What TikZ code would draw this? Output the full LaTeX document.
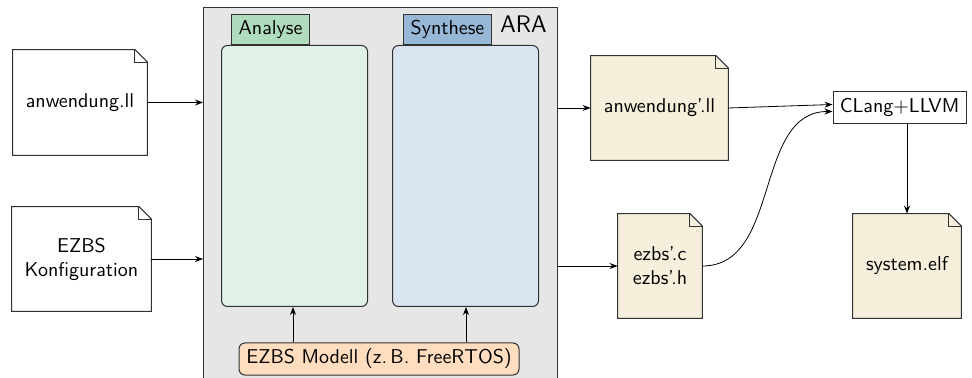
\documentclass[tikz,border=0pt]{standalone}
\usetikzlibrary{arrows.meta,backgrounds}
\definecolor{araGray}{RGB}{230,230,230}
\definecolor{anaTab}{RGB}{176,220,190}
\definecolor{anaBox}{RGB}{224,241,230}
\definecolor{synTab}{RGB}{150,183,214}
\definecolor{synBox}{RGB}{216,228,240}
\definecolor{docCream}{RGB}{245,239,220}
\definecolor{modOrange}{RGB}{255,221,190}
\definecolor{lineGray}{RGB}{50,50,50}

\newlength\foldsize
\setlength\foldsize{6.25pt}
% outline of a sheet with a folded top-right corner behind node #1
\newcommand\docsheet[2]{%
  \begin{pgfonlayer}{background}
    \draw[sheetline,fill=#2] (#1.south west) -- (#1.north west)
      -- ([xshift=-\foldsize]#1.north east) -- ([yshift=-\foldsize]#1.north east)
      -- (#1.south east) -- cycle;
    \draw[sheetline] ([xshift=-\foldsize]#1.north east) |- ([yshift=-\foldsize]#1.north east);
  \end{pgfonlayer}}

\begin{document}
\begin{tikzpicture}[x=0.5pt,y=-0.5pt,
  font=\sffamily,
  sheetline/.style={draw=lineGray,line width=0.5pt},
  sheet/.style={inner sep=0pt,align=center},
  stagebox/.style={draw=lineGray,line width=0.5pt,rounded corners=3pt},
  tab/.style={draw=lineGray,line width=0.5pt,inner sep=0pt},
  plainbox/.style={draw=lineGray,line width=0.5pt,inner sep=0pt},
  arr/.style={-{Stealth[length=4pt,width=3pt]},line width=0.4pt}]
\useasboundingbox (0,0) rectangle (972,378);
\clip (0,0) rectangle (972,378);

% ARA frame
\node[draw=lineGray,line width=0.5pt,fill=araGray,inner sep=0pt,
  minimum width=177pt,minimum height=210pt,anchor=north west] (ara) at (203,7) {};
\node[font=\sffamily\large] (aralabel) at (523.5,24) {ARA};

% analysis and synthesis stages
\node[stagebox,fill=anaBox,minimum width=73pt,minimum height=130.5pt,anchor=north west] (ana) at (221,45) {};
\node[tab,fill=anaTab,minimum width=39pt,minimum height=15pt,anchor=south west] (anatab) at (231,45) {Analyse};
\node[stagebox,fill=synBox,minimum width=73pt,minimum height=130.5pt,anchor=north west] (syn) at (392,45) {};
\node[tab,fill=synTab,minimum width=44pt,minimum height=15pt,anchor=south west] (syntab) at (403,45) {Synthese};

\node[stagebox,fill=modOrange,minimum width=140pt,minimum height=16pt,inner sep=0pt] (model) at (379,359) {EZBS Modell (z.\,B. FreeRTOS)};

% input files
\node[sheet,minimum width=67pt,minimum height=52.5pt] (app) at (80,102.5) {anwendung.ll};
\docsheet{app}{white}
\node[sheet,minimum width=69.5pt,minimum height=52pt] (cfg) at (81.5,259) {EZBS\\Konfiguration};
\docsheet{cfg}{white}

% generated files
\node[sheet,minimum width=68.5pt,minimum height=52pt] (app2) at (659.5,108) {anwendung’.ll};
\docsheet{app2}{docCream}
\node[sheet,minimum width=42pt,minimum height=52pt] (ezbs) at (660,266) {ezbs’.c\\ezbs’.h};
\docsheet{ezbs}{docCream}
\node[sheet,minimum width=54pt,minimum height=52pt] (sys) at (907,266) {system.elf};
\docsheet{sys}{docCream}

\node[plainbox,fill=white,minimum width=66.5pt,minimum height=16pt] (clang) at (899.5,108) {CLang+LLVM};

% connectors
\draw[arr] (app.east) -- (app.east -| ara.west);
\draw[arr] (cfg.east) -- (cfg.east -| ara.west);
\draw[arr] (model.north -| 293,0) -- (ana.south -| 293,0);
\draw[arr] (model.north -| 466,0) -- (syn.south -| 466,0);
\draw[arr] (app2.west -| ara.east) -- (app2.west);
\draw[arr] (ezbs.west -| ara.east) -- (ezbs.west);
\draw[arr] (app2.east) -- ([yshift=1.75pt]clang.west);
\draw[arr] (ezbs.east) to[out=0,in=180] ([yshift=-1.75pt]clang.west);
\draw[arr] (sys.north |- clang.south) -- (sys.north);
\end{tikzpicture}
\end{document}
